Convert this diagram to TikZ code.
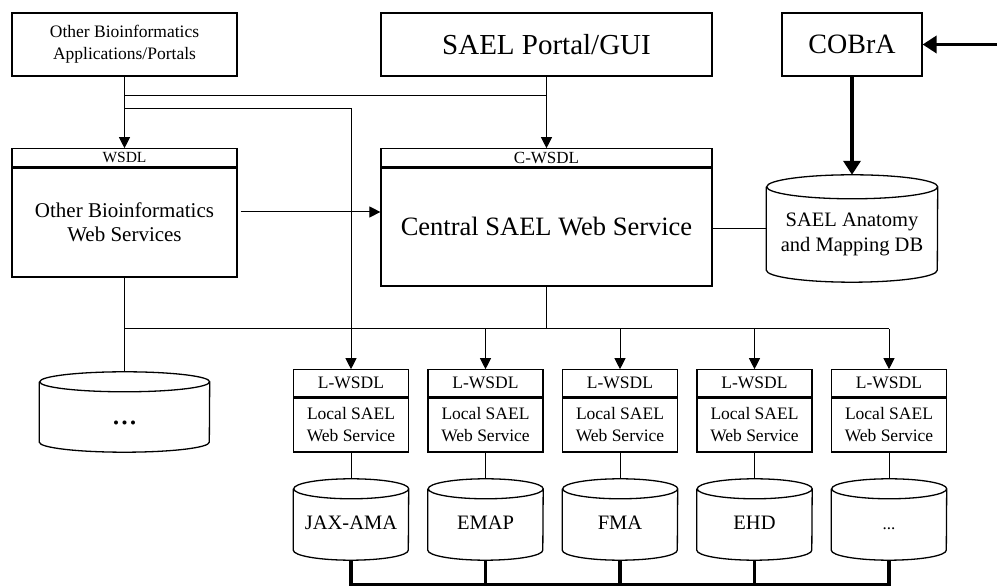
\documentclass[tikz,border=0pt]{standalone}
\usepackage{fontspec}
\setmainfont{Liberation Serif}
\usetikzlibrary{positioning,arrows.meta,calc}

% font size shortcut
\newcommand{\fsz}[2]{\fontsize{#1}{#2}\selectfont}
\newcommand{\etc}{...}
% cylinder round an empty node: node, x radius, y radius
\newcommand{\dbcyl}[3]{%
  \draw[dbline] ([yshift=-#3]#1.north west) -- ([yshift=#3]#1.south west)
    arc[start angle=180, end angle=360, x radius=#2, y radius=#3]
    -- ([yshift=-#3]#1.north east)
    arc[start angle=0, end angle=360, x radius=#2, y radius=#3];
}

\begin{document}
\begin{tikzpicture}[x=1pt, y=1pt,
    box/.style={draw, line width=1.2pt, inner sep=0pt, align=center},
    dbnode/.style={inner sep=0pt},
    dbline/.style={line width=1.3pt},
    link/.style={line width=1pt},
    arrowlink/.style={link, -{Triangle[length=11pt, width=11pt]}},
    heavy/.style={line width=3.5pt, -{Triangle[length=14pt, width=17pt]}},
    bar/.style={line width=3.5pt}]
    \fill[white] (0,0) rectangle (997,586);
    \useasboundingbox (0,0) rectangle (997,586);

    % Levels of the wires
    \coordinate (toply) at (0,490);
    \coordinate (loopy) at (0,477);
    \coordinate (busy) at (0,257);
    \coordinate (basey) at (0,1.5);
    \coordinate (edge) at (997,541.5);

    % Top row
    \node[box, minimum width=225pt, minimum height=63pt, font=\fsz{17.5}{22}] (apps) at (124.5,541.5) {Other Bioinformatics\\Applications/Portals};
    \node[box, minimum width=331pt, minimum height=63pt, font=\fsz{29}{34}] (portal) at (546.5,541.5) {SAEL Portal/GUI};
    \node[box, minimum width=140pt, minimum height=63pt, font=\fsz{28}{34}] (cobra) at (852,541.5) {COBrA};

    % Web services
    \node[box, minimum width=225pt, minimum height=109pt, font=\fsz{21}{24}] (wsdl) at (124.5,363.5) {Other Bioinformatics\\Web Services};
    \node[box, minimum width=225pt, minimum height=18pt, font=\fsz{15.5}{18}, above=0pt of wsdl] (wsdlhead) {WSDL};
    \node[box, minimum width=331pt, minimum height=118pt, font=\fsz{26.5}{30}] (central) at (546.5,359) {Central SAEL Web Service};
    \node[box, minimum width=331pt, minimum height=18pt, font=\fsz{17}{18}, above=0pt of central] (centralhead) {C-WSDL};

    % Anatomy database
    \node[dbnode, minimum width=171pt, minimum height=107pt] (anatomy) at (852,357.5) {};
    \dbcyl{anatomy}{85.5pt}{12pt}
    \node[font=\fsz{20.5}{25}, align=center] (anatomytext) at ([yshift=-6pt]anatomy.center) {SAEL Anatomy\\and Mapping DB};

    % Other database
    \node[dbnode, minimum width=170pt, minimum height=80pt] (leftdb) at (124.5,174) {};
    \dbcyl{leftdb}{85pt}{10pt}
    \node[font=\fsz{34}{40}, anchor=base] (leftdbtext) at ([yshift=-13pt]leftdb.center) {\etc};

    % Local services and their databases
    \foreach \i/\x/\db/\sz in {1/351/JAX-AMA/20.5, 2/485.5/EMAP/20.5, 3/620/FMA/20.5, 4/754.5/EHD/20.5, 5/889/\etc/17} {
        \node[box, minimum width=115pt, minimum height=54pt, font=\fsz{17.5}{22}] (local\i) at (\x,161) {Local SAEL\\Web Service};
        \node[box, minimum width=115pt, minimum height=27pt, font=\fsz{17.5}{22}, above=0pt of local\i] (localhead\i) {L-WSDL};
        \node[dbnode, minimum width=115pt, minimum height=81pt] (ldb\i) at (\x,66.5) {};
        \dbcyl{ldb\i}{57.5pt}{10pt}
        \node[font=\fsz{\sz}{24}, anchor=base] (ldbtext\i) at ([yshift=-10.5pt]ldb\i.center) {\db};
        \draw[link] (local\i) -- (ldb\i);
    }

    % Wires from the top
    \draw[arrowlink] (apps) -- (wsdlhead);
    \draw[link] (apps.south |- toply) -- (portal.south |- toply);
    \draw[arrowlink] (portal) -- (centralhead);
    \draw[arrowlink] (apps.south |- loopy) -| (localhead1.north);
    \draw[arrowlink] ([shift={(3pt,10.5pt)}]wsdl.east) -- ([yshift=10.5pt]wsdl.east -| central.west);
    \draw[link] (anatomy.west) -- (anatomy.west -| central.east);
    \draw[heavy] (edge) -- (cobra.east);
    \draw[heavy] (cobra) -- (anatomy);

    % Bus to the local services
    \draw[link] (wsdl) -- (leftdb);
    \draw[link] (central) -- (central.south |- busy);
    \draw[link] (wsdl.south |- busy) -- (localhead5.north |- busy);
    \foreach \i in {2,...,5} {
        \draw[arrowlink] (localhead\i.north |- busy) -- (localhead\i);
    }

    % Bottom bar
    \draw[bar] (ldb1) |- (basey -| ldb5.south) -- (ldb5);
    \foreach \i in {2,3,4} {
        \draw[bar] (ldb\i) -- (ldb\i.south |- basey);
    }
\end{tikzpicture}
\end{document}
